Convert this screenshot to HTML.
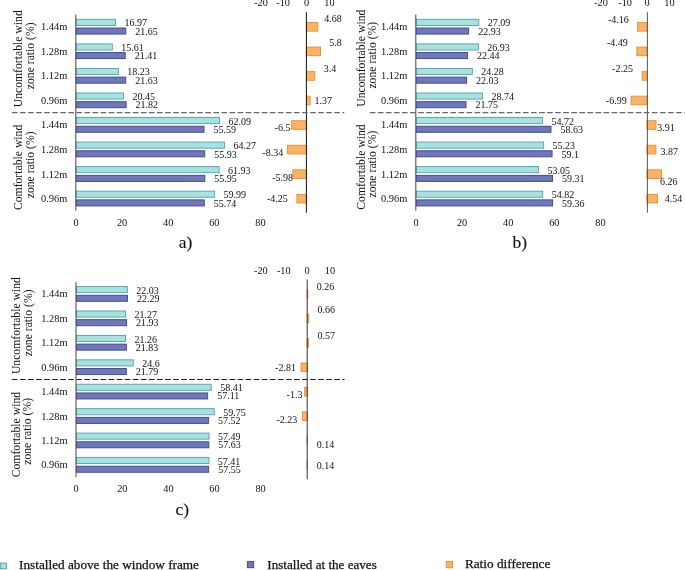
<!DOCTYPE html>
<html><head><meta charset="utf-8"><title>chart</title>
<style>html,body{margin:0;padding:0;background:#fff;}svg{display:block;will-change:transform;}text{font-family:"Liberation Serif",serif;fill:#111;}.d{font-size:10px;}.c{font-size:10.4px;}.t{font-size:10.3px;}.v{font-size:11.7px;}.L{font-size:13.1px;stroke:#111;stroke-width:0.25px;}.P{font-size:17.5px;stroke:#111;stroke-width:0.12px;}</style>
</head><body>
<svg width="685" height="570" viewBox="0 0 685 570">
<rect width="685" height="570" fill="#fff"/>
<g id="panel-a">
<rect x="76.3" y="19.32" width="39.17" height="6.1" fill="#A9E1E3" stroke="#4FA3A5" stroke-width="0.9"/>
<text class="d" x="124.42" y="26.32">16.97</text>
<rect x="76.3" y="28.02" width="49.45" height="6.05" fill="#6F78BC" stroke="#3C4386" stroke-width="0.9"/>
<text class="d" x="135.2" y="34.83">21.65</text>
<text class="c" text-anchor="end" x="67.3" y="30.23">1.44m</text>
<rect x="306.4" y="22.53" width="11.45" height="8.6" fill="#FBB465" stroke="#EC8A26" stroke-width="0.9"/>
<text class="d" x="324.2" y="22">4.68</text>
<rect x="76.3" y="43.88" width="36.03" height="6.1" fill="#A9E1E3" stroke="#4FA3A5" stroke-width="0.9"/>
<text class="d" x="121.28" y="50.88">15.61</text>
<rect x="76.3" y="52.58" width="48.9" height="6.05" fill="#6F78BC" stroke="#3C4386" stroke-width="0.9"/>
<text class="d" x="134.65" y="59.38">21.41</text>
<text class="c" text-anchor="end" x="67.3" y="54.77">1.28m</text>
<rect x="306.4" y="47.08" width="14.06" height="8.6" fill="#FBB465" stroke="#EC8A26" stroke-width="0.9"/>
<text class="d" x="329.3" y="46">5.8</text>
<rect x="76.3" y="68.43" width="42.07" height="6.1" fill="#A9E1E3" stroke="#4FA3A5" stroke-width="0.9"/>
<text class="d" x="127.32" y="75.43">18.23</text>
<rect x="76.3" y="77.13" width="49.41" height="6.05" fill="#6F78BC" stroke="#3C4386" stroke-width="0.9"/>
<text class="d" x="135.16" y="83.93">21.63</text>
<text class="c" text-anchor="end" x="67.3" y="79.33">1.12m</text>
<rect x="306.4" y="71.63" width="8.47" height="8.6" fill="#FBB465" stroke="#EC8A26" stroke-width="0.9"/>
<text class="d" x="323.7" y="71.5">3.4</text>
<rect x="76.3" y="92.98" width="47.19" height="6.1" fill="#A9E1E3" stroke="#4FA3A5" stroke-width="0.9"/>
<text class="d" x="132.44" y="99.98">20.45</text>
<rect x="76.3" y="101.68" width="49.85" height="6.05" fill="#6F78BC" stroke="#3C4386" stroke-width="0.9"/>
<text class="d" x="135.6" y="108.48">21.82</text>
<text class="c" text-anchor="end" x="67.3" y="103.88">0.96m</text>
<rect x="306.4" y="96.18" width="3.74" height="8.6" fill="#FBB465" stroke="#EC8A26" stroke-width="0.9"/>
<text class="d" x="314.6" y="103.7">1.37</text>
<rect x="76.3" y="117.53" width="143.17" height="6.1" fill="#A9E1E3" stroke="#4FA3A5" stroke-width="0.9"/>
<text class="d" x="228.42" y="124.53">62.09</text>
<rect x="76.3" y="126.23" width="127.68" height="6.05" fill="#6F78BC" stroke="#3C4386" stroke-width="0.9"/>
<text class="d" x="213.43" y="133.03">55.59</text>
<text class="c" text-anchor="end" x="67.3" y="128.43">1.44m</text>
<rect x="291.7" y="120.73" width="14.69" height="8.6" fill="#FBB465" stroke="#EC8A26" stroke-width="0.9"/>
<text class="d" x="274.6" y="130.9">-6.5</text>
<rect x="76.3" y="142.07" width="148.19" height="6.1" fill="#A9E1E3" stroke="#4FA3A5" stroke-width="0.9"/>
<text class="d" x="233.44" y="149.08">64.27</text>
<rect x="76.3" y="150.78" width="128.47" height="6.05" fill="#6F78BC" stroke="#3C4386" stroke-width="0.9"/>
<text class="d" x="214.22" y="157.58">55.93</text>
<text class="c" text-anchor="end" x="67.3" y="152.98">1.28m</text>
<rect x="287.42" y="145.28" width="18.98" height="8.6" fill="#FBB465" stroke="#EC8A26" stroke-width="0.9"/>
<text class="d" x="262.3" y="155.5">-8.34</text>
<rect x="76.3" y="166.62" width="142.8" height="6.1" fill="#A9E1E3" stroke="#4FA3A5" stroke-width="0.9"/>
<text class="d" x="228.05" y="173.63">61.93</text>
<rect x="76.3" y="175.33" width="128.51" height="6.05" fill="#6F78BC" stroke="#3C4386" stroke-width="0.9"/>
<text class="d" x="214.26" y="182.13">55.95</text>
<text class="c" text-anchor="end" x="67.3" y="177.53">1.12m</text>
<rect x="292.92" y="169.83" width="13.48" height="8.6" fill="#FBB465" stroke="#EC8A26" stroke-width="0.9"/>
<text class="d" x="272.2" y="180.7">-5.98</text>
<rect x="76.3" y="191.17" width="138.33" height="6.1" fill="#A9E1E3" stroke="#4FA3A5" stroke-width="0.9"/>
<text class="d" x="223.58" y="198.18">59.99</text>
<rect x="76.3" y="199.88" width="128.03" height="6.05" fill="#6F78BC" stroke="#3C4386" stroke-width="0.9"/>
<text class="d" x="213.78" y="206.68">55.74</text>
<text class="c" text-anchor="end" x="67.3" y="202.08">0.96m</text>
<rect x="296.95" y="194.38" width="9.45" height="8.6" fill="#FBB465" stroke="#EC8A26" stroke-width="0.9"/>
<text class="d" x="267" y="201.6">-4.25</text>
<line x1="75.8" y1="14.4" x2="75.8" y2="210.8" stroke="#555" stroke-width="1.1"/>
<line x1="306.4" y1="12.2" x2="306.4" y2="212.8" stroke="#111" stroke-width="1"/>
<line x1="11.9" y1="112.5" x2="344.3" y2="112.5" stroke="#686868" stroke-width="1.25" stroke-dasharray="5.65 2.41"/>
<text class="t" text-anchor="middle" x="76" y="225.6">0</text>
<text class="t" text-anchor="middle" x="122.1" y="225.6">20</text>
<text class="t" text-anchor="middle" x="168.2" y="225.6">40</text>
<text class="t" text-anchor="middle" x="214.3" y="225.6">60</text>
<text class="t" text-anchor="middle" x="260.4" y="225.6">80</text>
<text class="t" text-anchor="middle" x="261" y="6.2">-20</text>
<text class="t" text-anchor="middle" x="283.1" y="6.2">-10</text>
<text class="t" text-anchor="middle" x="306.6" y="6.2">0</text>
<text class="t" text-anchor="middle" x="329.4" y="6.2">10</text>
<text class="v" transform="translate(21.6 107.3) rotate(-90)">Uncomfortable wind</text>
<text class="v" transform="translate(33.9 89.2) rotate(-90)">zone ratio (%)</text>
<text class="v" transform="translate(21.8 210.1) rotate(-90)">Comfortable wind</text>
<text class="v" transform="translate(33.8 198.3) rotate(-90)">zone ratio (%)</text>
<text class="P" x="178.7" y="248">a)</text>
</g>
<g id="panel-b">
<rect x="416.3" y="19.32" width="62.49" height="6.1" fill="#A9E1E3" stroke="#4FA3A5" stroke-width="0.9"/>
<text class="d" x="487.74" y="26.32">27.09</text>
<rect x="416.3" y="28.02" width="52.4" height="6.05" fill="#6F78BC" stroke="#3C4386" stroke-width="0.9"/>
<text class="d" x="478.15" y="34.83">22.93</text>
<text class="c" text-anchor="end" x="407.3" y="30.23">1.44m</text>
<rect x="637.66" y="22.53" width="9.24" height="8.6" fill="#FBB465" stroke="#EC8A26" stroke-width="0.9"/>
<text class="d" x="608" y="22.5">-4.16</text>
<rect x="416.3" y="43.88" width="62.12" height="6.1" fill="#A9E1E3" stroke="#4FA3A5" stroke-width="0.9"/>
<text class="d" x="487.37" y="50.88">26.93</text>
<rect x="416.3" y="52.58" width="51.27" height="6.05" fill="#6F78BC" stroke="#3C4386" stroke-width="0.9"/>
<text class="d" x="477.02" y="59.38">22.44</text>
<text class="c" text-anchor="end" x="407.3" y="54.77">1.28m</text>
<rect x="636.89" y="47.08" width="10.01" height="8.6" fill="#FBB465" stroke="#EC8A26" stroke-width="0.9"/>
<text class="d" x="606.9" y="46">-4.49</text>
<rect x="416.3" y="68.43" width="56.02" height="6.1" fill="#A9E1E3" stroke="#4FA3A5" stroke-width="0.9"/>
<text class="d" x="481.27" y="75.43">24.28</text>
<rect x="416.3" y="77.13" width="50.33" height="6.05" fill="#6F78BC" stroke="#3C4386" stroke-width="0.9"/>
<text class="d" x="476.08" y="83.93">22.03</text>
<text class="c" text-anchor="end" x="407.3" y="79.33">1.12m</text>
<rect x="642.11" y="71.63" width="4.79" height="8.6" fill="#FBB465" stroke="#EC8A26" stroke-width="0.9"/>
<text class="d" x="612.1" y="71.7">-2.25</text>
<rect x="416.3" y="92.98" width="66.3" height="6.1" fill="#A9E1E3" stroke="#4FA3A5" stroke-width="0.9"/>
<text class="d" x="491.55" y="99.98">28.74</text>
<rect x="416.3" y="101.68" width="49.68" height="6.05" fill="#6F78BC" stroke="#3C4386" stroke-width="0.9"/>
<text class="d" x="475.43" y="108.48">21.75</text>
<text class="c" text-anchor="end" x="407.3" y="103.88">0.96m</text>
<rect x="631.06" y="96.18" width="15.84" height="8.6" fill="#FBB465" stroke="#EC8A26" stroke-width="0.9"/>
<text class="d" x="605.8" y="103.9">-6.99</text>
<rect x="416.3" y="117.53" width="126.18" height="6.1" fill="#A9E1E3" stroke="#4FA3A5" stroke-width="0.9"/>
<text class="d" x="551.43" y="124.53">54.72</text>
<rect x="416.3" y="126.23" width="134.69" height="6.05" fill="#6F78BC" stroke="#3C4386" stroke-width="0.9"/>
<text class="d" x="560.44" y="133.03">58.63</text>
<text class="c" text-anchor="end" x="407.3" y="128.43">1.44m</text>
<rect x="646.9" y="120.73" width="9.11" height="8.6" fill="#FBB465" stroke="#EC8A26" stroke-width="0.9"/>
<text class="d" x="657.3" y="130.9">3.91</text>
<rect x="416.3" y="142.07" width="127.36" height="6.1" fill="#A9E1E3" stroke="#4FA3A5" stroke-width="0.9"/>
<text class="d" x="552.61" y="149.08">55.23</text>
<rect x="416.3" y="150.78" width="135.78" height="6.05" fill="#6F78BC" stroke="#3C4386" stroke-width="0.9"/>
<text class="d" x="561.53" y="157.58">59.1</text>
<text class="c" text-anchor="end" x="407.3" y="152.98">1.28m</text>
<rect x="646.9" y="145.28" width="9.02" height="8.6" fill="#FBB465" stroke="#EC8A26" stroke-width="0.9"/>
<text class="d" x="660.6" y="155.3">3.87</text>
<rect x="416.3" y="166.62" width="122.33" height="6.1" fill="#A9E1E3" stroke="#4FA3A5" stroke-width="0.9"/>
<text class="d" x="547.58" y="173.63">53.05</text>
<rect x="416.3" y="175.33" width="136.26" height="6.05" fill="#6F78BC" stroke="#3C4386" stroke-width="0.9"/>
<text class="d" x="562.01" y="182.13">59.31</text>
<text class="c" text-anchor="end" x="407.3" y="177.53">1.12m</text>
<rect x="646.9" y="169.83" width="14.59" height="8.6" fill="#FBB465" stroke="#EC8A26" stroke-width="0.9"/>
<text class="d" x="660" y="184.8">6.26</text>
<rect x="416.3" y="191.17" width="126.41" height="6.1" fill="#A9E1E3" stroke="#4FA3A5" stroke-width="0.9"/>
<text class="d" x="551.66" y="198.18">54.82</text>
<rect x="416.3" y="199.88" width="136.37" height="6.05" fill="#6F78BC" stroke="#3C4386" stroke-width="0.9"/>
<text class="d" x="562.12" y="206.68">59.36</text>
<text class="c" text-anchor="end" x="407.3" y="202.08">0.96m</text>
<rect x="646.9" y="194.38" width="10.58" height="8.6" fill="#FBB465" stroke="#EC8A26" stroke-width="0.9"/>
<text class="d" x="664.8" y="202">4.54</text>
<line x1="415.8" y1="14.4" x2="415.8" y2="210.8" stroke="#555" stroke-width="1.1"/>
<line x1="647.4" y1="12.2" x2="647.4" y2="212.8" stroke="#555" stroke-width="1"/>
<line x1="369.8" y1="112.5" x2="685" y2="112.5" stroke="#686868" stroke-width="1.25" stroke-dasharray="5.65 2.41"/>
<text class="t" text-anchor="middle" x="416" y="225.6">0</text>
<text class="t" text-anchor="middle" x="462.1" y="225.6">20</text>
<text class="t" text-anchor="middle" x="508.2" y="225.6">40</text>
<text class="t" text-anchor="middle" x="554.3" y="225.6">60</text>
<text class="t" text-anchor="middle" x="600.4" y="225.6">80</text>
<text class="t" text-anchor="middle" x="601" y="6.2">-20</text>
<text class="t" text-anchor="middle" x="625.1" y="6.2">-10</text>
<text class="t" text-anchor="middle" x="647" y="6.2">0</text>
<text class="t" text-anchor="middle" x="669.5" y="6.2">10</text>
<text class="v" transform="translate(364.7 106.7) rotate(-90)">Uncomfortable wind</text>
<text class="v" transform="translate(375.9 88.6) rotate(-90)">zone ratio (%)</text>
<text class="v" transform="translate(364.6 209.7) rotate(-90)">Comfortable wind</text>
<text class="v" transform="translate(376 197.5) rotate(-90)">zone ratio (%)</text>
<text class="P" x="512.4" y="248.2">b)</text>
</g>
<g id="panel-c">
<rect x="76.5" y="286.56" width="50.83" height="6.1" fill="#A9E1E3" stroke="#4FA3A5" stroke-width="0.9"/>
<text class="d" x="136.28" y="293.66">22.03</text>
<rect x="76.5" y="295.26" width="50.93" height="6.05" fill="#6F78BC" stroke="#3C4386" stroke-width="0.9"/>
<text class="d" x="136.88" y="301.76">22.29</text>
<text class="c" text-anchor="end" x="67.5" y="297.46">1.44m</text>
<rect x="307.2" y="289.76" width="0.61" height="8.6" fill="#FBB465" stroke="#EC8A26" stroke-width="0.9"/>
<text class="d" x="316.8" y="289.5">0.26</text>
<rect x="76.5" y="310.98" width="49.08" height="6.1" fill="#A9E1E3" stroke="#4FA3A5" stroke-width="0.9"/>
<text class="d" x="134.53" y="318.08">21.27</text>
<rect x="76.5" y="319.68" width="50.1" height="6.05" fill="#6F78BC" stroke="#3C4386" stroke-width="0.9"/>
<text class="d" x="136.05" y="326.18">21.93</text>
<text class="c" text-anchor="end" x="67.5" y="321.88">1.28m</text>
<rect x="307.2" y="314.18" width="1.54" height="8.6" fill="#FBB465" stroke="#EC8A26" stroke-width="0.9"/>
<text class="d" x="317.5" y="313.1">0.66</text>
<rect x="76.5" y="335.4" width="49.05" height="6.1" fill="#A9E1E3" stroke="#4FA3A5" stroke-width="0.9"/>
<text class="d" x="134.5" y="342.5">21.26</text>
<rect x="76.5" y="344.1" width="49.87" height="6.05" fill="#6F78BC" stroke="#3C4386" stroke-width="0.9"/>
<text class="d" x="135.82" y="350.6">21.83</text>
<text class="c" text-anchor="end" x="67.5" y="346.3">1.12m</text>
<rect x="307.2" y="338.6" width="1.33" height="8.6" fill="#FBB465" stroke="#EC8A26" stroke-width="0.9"/>
<text class="d" x="317.5" y="338.8">0.57</text>
<rect x="76.5" y="359.82" width="56.75" height="6.1" fill="#A9E1E3" stroke="#4FA3A5" stroke-width="0.9"/>
<text class="d" x="142.2" y="366.92">24.6</text>
<rect x="76.5" y="368.52" width="49.78" height="6.05" fill="#6F78BC" stroke="#3C4386" stroke-width="0.9"/>
<text class="d" x="135.73" y="375.02">21.79</text>
<text class="c" text-anchor="end" x="67.5" y="370.72">0.96m</text>
<rect x="301.1" y="363.02" width="6.1" height="8.6" fill="#FBB465" stroke="#EC8A26" stroke-width="0.9"/>
<text class="d" x="275.1" y="371.1">-2.81</text>
<rect x="76.5" y="384.24" width="134.69" height="6.1" fill="#A9E1E3" stroke="#4FA3A5" stroke-width="0.9"/>
<text class="d" x="220.14" y="391.34">58.41</text>
<rect x="76.5" y="392.94" width="131.19" height="6.05" fill="#6F78BC" stroke="#3C4386" stroke-width="0.9"/>
<text class="d" x="217.14" y="399.44">57.11</text>
<text class="c" text-anchor="end" x="67.5" y="395.14">1.44m</text>
<rect x="304.62" y="387.44" width="2.58" height="8.6" fill="#FBB465" stroke="#EC8A26" stroke-width="0.9"/>
<text class="d" x="286.6" y="398.1">-1.3</text>
<rect x="76.5" y="408.66" width="137.77" height="6.1" fill="#A9E1E3" stroke="#4FA3A5" stroke-width="0.9"/>
<text class="d" x="223.22" y="415.76">59.75</text>
<rect x="76.5" y="417.36" width="132.13" height="6.05" fill="#6F78BC" stroke="#3C4386" stroke-width="0.9"/>
<text class="d" x="218.08" y="423.86">57.52</text>
<text class="c" text-anchor="end" x="67.5" y="419.56">1.28m</text>
<rect x="302.45" y="411.86" width="4.75" height="8.6" fill="#FBB465" stroke="#EC8A26" stroke-width="0.9"/>
<text class="d" x="276.5" y="422.8">-2.23</text>
<rect x="76.5" y="433.08" width="132.56" height="6.1" fill="#A9E1E3" stroke="#4FA3A5" stroke-width="0.9"/>
<text class="d" x="218.01" y="440.18">57.49</text>
<rect x="76.5" y="441.78" width="132.39" height="6.05" fill="#6F78BC" stroke="#3C4386" stroke-width="0.9"/>
<text class="d" x="218.34" y="448.28">57.63</text>
<text class="c" text-anchor="end" x="67.5" y="443.98">1.12m</text>
<rect x="307.2" y="436.28" width="0.33" height="8.6" fill="#FBB465" stroke="#EC8A26" stroke-width="0.9"/>
<text class="d" x="316.7" y="448">0.14</text>
<rect x="76.5" y="457.5" width="132.38" height="6.1" fill="#A9E1E3" stroke="#4FA3A5" stroke-width="0.9"/>
<text class="d" x="217.83" y="464.6">57.41</text>
<rect x="76.5" y="466.2" width="132.2" height="6.05" fill="#6F78BC" stroke="#3C4386" stroke-width="0.9"/>
<text class="d" x="218.15" y="472.7">57.55</text>
<text class="c" text-anchor="end" x="67.5" y="468.4">0.96m</text>
<rect x="307.2" y="460.7" width="0.33" height="8.6" fill="#FBB465" stroke="#EC8A26" stroke-width="0.9"/>
<text class="d" x="316.7" y="468.8">0.14</text>
<line x1="76" y1="281.7" x2="76" y2="477.06" stroke="#555" stroke-width="1.1"/>
<line x1="307.2" y1="279.5" x2="307.2" y2="479.3" stroke="#333" stroke-width="1"/>
<line x1="11.9" y1="379.5" x2="344.6" y2="379.5" stroke="#1c1c1c" stroke-width="1.1" stroke-dasharray="5.65 2.41"/>
<text class="t" text-anchor="middle" x="76.2" y="492.2">0</text>
<text class="t" text-anchor="middle" x="122.3" y="492.2">20</text>
<text class="t" text-anchor="middle" x="168.4" y="492.2">40</text>
<text class="t" text-anchor="middle" x="214.5" y="492.2">60</text>
<text class="t" text-anchor="middle" x="260.6" y="492.2">80</text>
<text class="t" text-anchor="middle" x="260.9" y="273.7">-20</text>
<text class="t" text-anchor="middle" x="283.8" y="273.7">-10</text>
<text class="t" text-anchor="middle" x="307" y="273.7">0</text>
<text class="t" text-anchor="middle" x="329.9" y="273.7">10</text>
<text class="v" transform="translate(20.1 374.1) rotate(-90)">Uncomfortable wind</text>
<text class="v" transform="translate(31.5 356.2) rotate(-90)">zone ratio (%)</text>
<text class="v" transform="translate(20.2 477.3) rotate(-90)">Comfortable wind</text>
<text class="v" transform="translate(31.4 464.8) rotate(-90)">zone ratio (%)</text>
<text class="P" x="175.4" y="515.2">c)</text>
</g>
<g id="legend">
<rect x="0.2" y="563.1" width="6.2" height="5.7" fill="#A9E1E3" stroke="#4FA3A5" stroke-width="1"/>
<text class="L" style="font-size:13.22px" x="19.1" y="569.0">Installed above the window frame</text>
<rect x="247.4" y="561.6" width="6.3" height="6.1" fill="#6F78BC" stroke="#3C4386" stroke-width="0.9"/>
<text class="L" x="267.3" y="568.6">Installed at the eaves</text>
<rect x="446.2" y="561.4" width="6.4" height="6.3" fill="#FBB465" stroke="#EC8A26" stroke-width="0.9"/>
<text class="L" style="font-size:13.26px" x="464.9" y="568.3">Ratio difference</text>
</g>
</svg></body></html>
